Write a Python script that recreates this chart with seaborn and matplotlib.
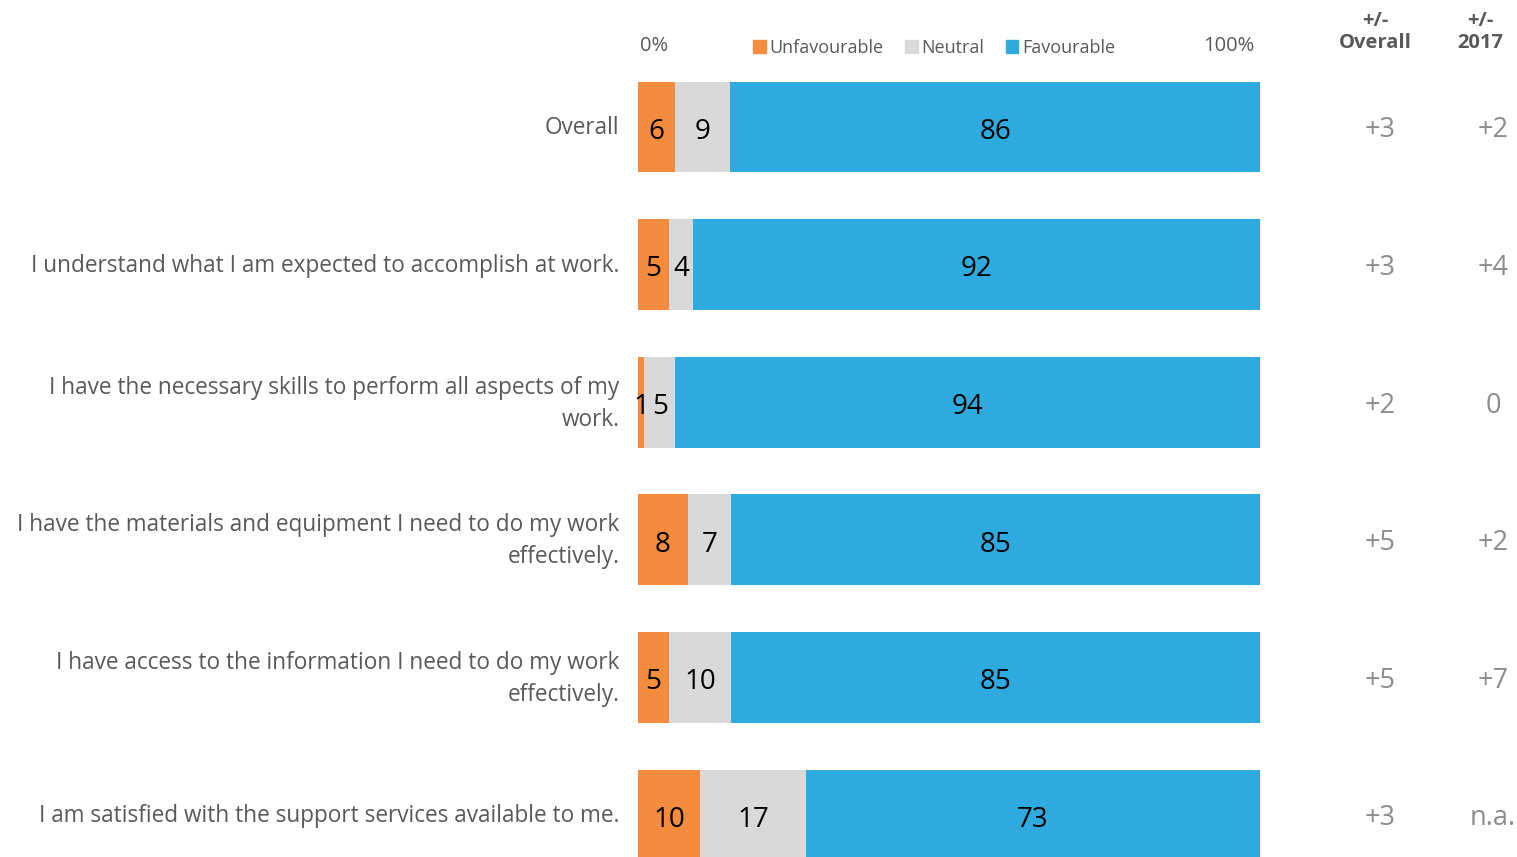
import matplotlib
matplotlib.use("Agg")
import matplotlib.pyplot as plt
from matplotlib.patches import Patch
import seaborn as sns
import pandas as pd
import numpy as np

categories = [
    "Overall",
    "I understand what I am expected to accomplish at work.",
    "I have the necessary skills to perform all aspects of my\nwork.",
    "I have the materials and equipment I need to do my work\neffectively.",
    "I have access to the information I need to do my work\neffectively.",
    "I am satisfied with the support services available to me.",
]
unfavourable = [6, 5, 1, 8, 5, 10]
neutral = [9, 4, 5, 7, 10, 17]
favourable = [86, 92, 94, 85, 85, 73]
diff_overall = ["+3", "+3", "+2", "+5", "+5", "+3"]
diff_2017 = ["+2", "+4", "0", "+2", "+7", "n.a."]

C_UNF = "#F58B3C"
C_NEU = "#D9D9D9"
C_FAV = "#2EAADF"
TXT = "#595959"
TXT2 = "#8C8C8C"

sns.set_theme(style="white")
plt.rcParams['font.family'] = ['Open Sans', 'DejaVu Sans']

df = pd.DataFrame({"cat": categories, "unf": unfavourable, "neu": neutral, "fav": favourable})
tot = df["unf"] + df["neu"] + df["fav"]
df["c1"] = df["unf"] / tot * 100
df["c2"] = (df["unf"] + df["neu"]) / tot * 100
df["c3"] = (df["unf"] + df["neu"] + df["fav"]) / tot * 100

fig = plt.figure(figsize=(15.17, 8.57), dpi=100)
ax = fig.add_axes([638 / 1517, 0, 622 / 1517, 1])

W = 0.66
sns.barplot(data=df, y="cat", x="c3", orient="h", color=C_FAV, width=W, ax=ax, saturation=1)
sns.barplot(data=df, y="cat", x="c2", orient="h", color=C_NEU, width=W, ax=ax, saturation=1)
sns.barplot(data=df, y="cat", x="c1", orient="h", color=C_UNF, width=W, ax=ax, saturation=1)
for p in ax.patches:
    p.set_edgecolor("none")

ax.set_xlim(0, 100)
ax.set_ylim(5.305, -0.923)
ax.set_xlabel("")
ax.set_ylabel("")
ax.set_xticks([])
ax.set_yticks([])
for s in ax.spines.values():
    s.set_visible(False)

for i, row in df.iterrows():
    ax.text(-3, i + 0.01, row["cat"], ha="right", va="center", fontsize=16.3, color=TXT, linespacing=1.45)
    ax.text(row["c1"] / 2, i + 0.035, str(row["unf"]), ha="center", va="center", fontsize=20, color="black")
    ax.text((row["c1"] + row["c2"]) / 2, i + 0.035, str(row["neu"]), ha="center", va="center", fontsize=20, color="black")
    ax.text((row["c2"] + row["c3"]) / 2, i + 0.035, str(row["fav"]), ha="center", va="center", fontsize=20, color="black")

xo = (1380 - 638) / 622 * 100
x17 = (1493 - 638) / 622 * 100
for i in range(len(categories)):
    ax.text(xo, i + 0.025, diff_overall[i], ha="center", va="center", fontsize=19.5, color=TXT2)
    ax.text(x17, i + 0.025, diff_2017[i], ha="center", va="center", fontsize=19.5, color=TXT2)

fig.text(1375 / 1517, 1 - 32 / 857, "+/-\nOverall", ha="center", va="center", fontsize=14.5,
         color=TXT, fontweight="bold", linespacing=1.2)
fig.text(1480 / 1517, 1 - 32 / 857, "+/-\n2017", ha="center", va="center", fontsize=14.5,
         color=TXT, fontweight="bold", linespacing=1.2)

fig.text(640 / 1517, 1 - 46 / 857, "0%", ha="left", va="center", fontsize=14.5, color=TXT)
fig.text(1254 / 1517, 1 - 46 / 857, "100%", ha="right", va="center", fontsize=14.5, color=TXT)

handles = [Patch(color=C_UNF, label="Unfavourable"), Patch(color=C_NEU, label="Neutral"),
           Patch(color=C_FAV, label="Favourable")]
leg = ax.legend(handles=handles, loc="center", bbox_to_anchor=((934 - 638) / 622, 1 - 48 / 857),
                ncol=3, frameon=False, fontsize=13, handlelength=0.7, handleheight=0.7,
                handletextpad=0.2, columnspacing=1.2, borderpad=0)
for t in leg.get_texts():
    t.set_color(TXT)

fig.savefig("out.png", dpi=100, facecolor="white")
